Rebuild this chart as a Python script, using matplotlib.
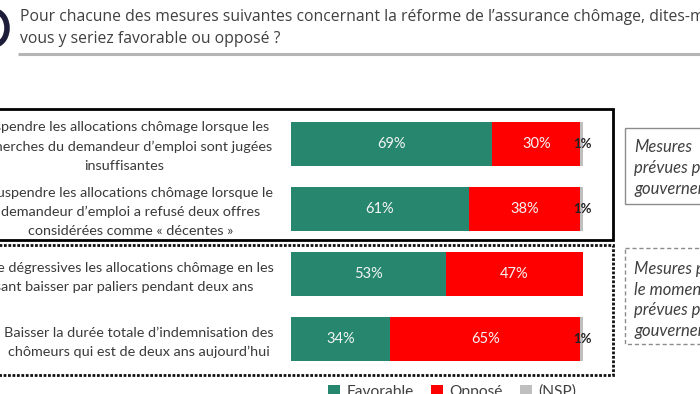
import matplotlib
matplotlib.use("Agg")
import matplotlib.pyplot as plt
from matplotlib.patches import Rectangle, Arc
import numpy as np

categories = [
    "Suspendre les allocations chômage lorsque les\nrecherches du demandeur d\u2019emploi sont jugées\ninsuffisantes",
    "Suspendre les allocations chômage lorsque le\ndemandeur d\u2019emploi a refusé deux offres\nconsidérées comme « décentes »",
    "Rendre dégressives les allocations chômage en les\nfaisant baisser par paliers pendant deux ans",
    "Baisser la durée totale d\u2019indemnisation des\nchômeurs qui est de deux ans aujourd\u2019hui",
]
favorable = [69, 61, 53, 34]
oppose = [30, 38, 47, 65]
nsp = [1, 1, 0, 1]
series_names = ["Favorable", "Opposé", "(NSP)"]
colors = ["#26876E", "#FF0000", "#BFBFBF"]

title = ("Pour chacune des mesures suivantes concernant la réforme de l\u2019assurance chômage, dites-moi si\n"
         "vous y seriez favorable ou opposé ?")
side1 = "Mesures\nprévues par le\ngouvernement"
side2 = "Mesures pas pour\nle moment\nprévues par le\ngouvernement"

W, H = 700, 394
fig = plt.figure(figsize=(7, 3.94), dpi=100)
fig.patch.set_facecolor("white")

# overlay in pixel coords
ov = fig.add_axes([0, 0, 1, 1])
ov.set_xlim(0, W)
ov.set_ylim(H, 0)
ov.axis("off")

# bar axes
top_px, bot_px = 111, 372
left_px, right_px = 291, 583
ax = fig.add_axes([left_px / W, (H - bot_px) / H, (right_px - left_px) / W, (bot_px - top_px) / H])
ax.set_xlim(0, 100)
ax.set_ylim(len(categories) - 0.5, -0.5)
ax.axis("off")

y = np.arange(len(categories))
fav = np.array(favorable)
opp = np.array(oppose)
ns = np.array(nsp)
bh = 44 / 65.25
ax.barh(y, fav, height=bh, color=colors[0], label=series_names[0])
ax.barh(y, opp, left=fav, height=bh, color=colors[1], label=series_names[1])
ax.barh(y, ns, left=fav + opp, height=bh, color=colors[2], label=series_names[2])

for i in range(len(y)):
    ax.text(fav[i] / 2, y[i], f"{fav[i]}%", ha="center", va="center", color="#f4f4f4",
            fontsize=10.5, family="Lato")
    ax.text(fav[i] + opp[i] / 2, y[i], f"{opp[i]}%", ha="center", va="center", color="#f4f4f4",
            fontsize=10.5, family="Lato")
    if ns[i] > 0:
        ax.text(fav[i] + opp[i] + ns[i] - 0.2, y[i], f"{ns[i]}%", ha="center", va="center",
                color="#222222", fontsize=9.5, family="Lato", fontweight="bold")

# category labels
label_cx = [124, 131, 116, 139]
for i, c in enumerate(categories):
    yc = top_px + (i + 0.5) * (bot_px - top_px) / len(categories) + 3
    ov.text(label_cx[i], yc, c, ha="center", va="center", multialignment="center",
            fontsize=10.4, family="Lato", color="#3a3a3a", linespacing=1.70)

# boxes
ov.add_patch(Rectangle((-5, 108.5), 617.5, 131.5, fill=False, ec="black", lw=2))
ov.add_patch(Rectangle((-5, 245), 618, 130, fill=False, ec="#111111", lw=2, ls=(0, (1, 0.6))))

# side boxes
ov.add_patch(Rectangle((625, 128), 100, 76, fill=False, ec="#8c8c8c", lw=1))
ov.add_patch(Rectangle((625, 248), 100, 96, fill=False, ec="#8c8c8c", lw=1, ls=(0, (3, 2))))
ov.text(634, 168, side1, ha="left", va="center", fontsize=12, family="Lato", style="italic",
        color="#404040", linespacing=1.35)
ov.text(634, 300, side2, ha="left", va="center", fontsize=12, family="Lato", style="italic",
        color="#404040", linespacing=1.37)

# title
ov.text(20, 28, title, ha="left", va="center", fontsize=11.3, family="Open Sans",
        color="#404040", linespacing=1.5)
ov.plot([18, 700], [54, 54], color="#b5b5b5", lw=2.2, solid_capstyle="butt")
ov.add_patch(Arc((-6, 28), 26, 34, theta1=-80, theta2=80, color="#1d1d3a", lw=4))

# legend
handles, labels = ax.get_legend_handles_labels()
fig.legend(handles, labels, loc="center", bbox_to_anchor=(452 / W, (H - 392) / H), ncol=3,
           frameon=False, prop={"family": "Lato", "size": 11.2},
           handlelength=0.8, handleheight=0.8, handletextpad=0.4, columnspacing=1.1,
           labelcolor="#404040")

fig.savefig("out.png", dpi=100, facecolor="white")
